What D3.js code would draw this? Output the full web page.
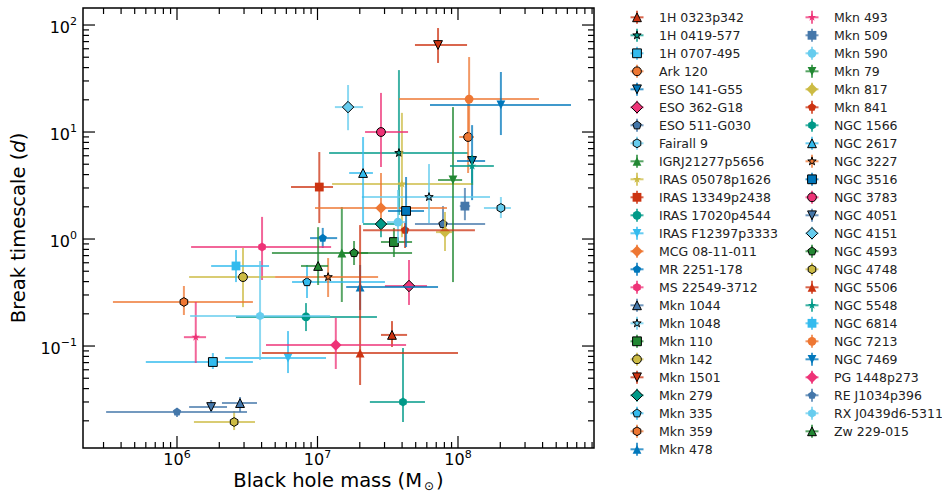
<!DOCTYPE html>
<meta charset="utf-8">
<style>
body { margin: 0; background: #fff; }
svg { font-family: 'DejaVu Sans', sans-serif; }
.tick-label { font-size: 16px; fill: #000; }
.axis-title { font-size: 19.5px; fill: #000; }
.legend text { font-size: 12.5px; fill: #222; }
.err { fill: none; stroke-width: 2px; stroke-opacity: 0.75; }
</style>
<body>
<svg width="942" height="495"></svg>
<script src="https://d3js.org/d3.v7.min.js"></script>
<script>
// sources, in legend order
var names = ["1H 0323p342", "1H 0419-577", "1H 0707-495", "Ark 120", "ESO 141-G55", "ESO 362-G18",
  "ESO 511-G030", "Fairall 9", "IGRJ21277p5656", "IRAS 05078p1626", "IRAS 13349p2438",
  "IRAS 17020p4544", "IRAS F12397p3333", "MCG 08-11-011", "MR 2251-178", "MS 22549-3712",
  "Mkn 1044", "Mkn 1048", "Mkn 110", "Mkn 142", "Mkn 1501", "Mkn 279", "Mkn 335", "Mkn 359",
  "Mkn 478", "Mkn 493", "Mkn 509", "Mkn 590", "Mkn 79", "Mkn 817", "Mkn 841", "NGC 1566",
  "NGC 2617", "NGC 3227", "NGC 3516", "NGC 3783", "NGC 4051", "NGC 4151", "NGC 4593",
  "NGC 4748", "NGC 5506", "NGC 5548", "NGC 6814", "NGC 7213", "NGC 7469", "PG 1448p273",
  "RE J1034p396", "RX J0439d6-5311", "Zw 229-015"];

// black hole mass (Msun) and its lower / upper bound
var mass   = [3.39e7, 3.80e7, 1.80e6, 1.18e8, 1.26e8, 4.48e7, 7.82e7, 2.02e8, 1.49e7, 3.99e7,
              1.03e7, 8.28e6, 6.17e6, 2.83e7, 1.09e7, 4.03e6, 2.81e6, 6.22e7, 3.50e7, 2.95e6,
              7.21e7, 2.83e7, 8.42e6, 1.12e6, 2.01e7, 1.36e6, 1.12e8, 3.74e7, 9.21e7, 8.08e7,
              4.20e7, 4.06e7, 2.11e7, 1.19e7, 4.27e7, 2.83e7, 1.75e6, 1.65e7, 1.82e7, 2.55e6,
              2.01e7, 1.26e8, 2.63e6, 1.20e8, 2.02e8, 1.35e7, 1.00e6, 3.90e6, 1.01e7];
var massLo = [2.83e7, 1.21e7, 6.0e5, 1.02e8, 9.84e7, 3.02e7, 4.94e7, 1.53e8, 4.74e6, 1.27e7,
              6.48e6, 2.63e6, 2.20e6, 9.6e6, 8.85e6, 1.26e6, 2.09e6, 2.07e7, 2.83e7, 1.22e6,
              4.94e7, 2.11e7, 6.59e6, 3.50e5, 1.60e7, 1.12e6, 1.03e8, 3.12e7, 7.21e7, 6.97e7,
              2.11e7, 2.36e7, 1.68e7, 4.99e6, 3.18e7, 2.18e7, 1.22e6, 1.33e7, 1.45e7, 1.32e6,
              4.03e6, 8.77e7, 1.75e6, 3.80e7, 6.32e7, 4.30e6, 3.13e5, 1.24e6, 7.63e6];
var massHi = [4.34e7, 1.18e8, 3.47e6, 1.30e8, 1.56e8, 6.02e7, 1.56e8, 2.38e8, 4.71e7, 1.28e8,
              1.29e7, 2.65e7, 1.15e7, 8.35e7, 1.38e7, 1.25e7, 3.71e6, 1.69e8, 4.71e7, 4.99e6,
              1.16e8, 3.68e7, 3.02e7, 3.47e6, 7.21e7, 1.61e6, 1.22e8, 4.20e7, 1.07e8, 9.07e7,
              1.32e8, 5.82e7, 2.48e7, 2.70e7, 5.73e7, 4.41e7, 2.27e6, 2.11e7, 2.29e7, 3.59e6,
              1.0e8, 1.80e8, 4.52e6, 3.77e8, 6.37e8, 4.27e7, 3.15e6, 1.23e7, 1.19e7];

// break timescale (days) and its lower / upper bound
var tau   = [0.127, 6.37, 0.0709, 8.98, 5.36, 0.364, 1.38, 1.95, 0.740, 3.27,
             3.06, 0.187, 0.0773, 1.95, 1.02, 0.842, 0.0293, 2.47, 0.937, 0.441,
             65.0, 1.38, 0.396, 0.258, 0.356, 0.121, 2.03, 1.44, 3.56, 1.16,
             1.21, 0.0300, 4.14, 0.441, 1.83, 10.0, 0.0269, 17.1, 0.740, 0.0195,
             0.0860, 4.81, 0.560, 20.3, 17.9, 0.102, 0.0242, 0.191, 0.560];
var tauLo = [0.098, 1.68, 0.0610, 4.14, 2.31, 0.242, 1.14, 1.57, 0.258, 1.04,
             1.41, 0.138, 0.0559, 1.21, 0.824, 0.414, 0.0242, 1.41, 0.679, 0.231,
             44.2, 1.04, 0.281, 0.195, 0.217, 0.0694, 1.50, 0.917, 0.396, 0.773,
             0.824, 0.0195, 1.41, 0.287, 0.842, 4.71, 0.0242, 10.4, 0.572, 0.0164,
             0.0432, 3.20, 0.396, 8.42, 9.37, 0.0610, 0.0217, 0.0740, 0.372];
var tauHi = [0.171, 37.9, 0.0860, 19.9, 11.6, 0.637, 2.03, 2.47, 1.99, 15.1,
             6.50, 0.252, 0.138, 4.14, 1.27, 1.61, 0.0334, 5.02, 1.27, 0.824,
             93.7, 1.57, 0.572, 0.364, 0.572, 0.258, 3.00, 2.87, 17.1, 1.79,
             1.41, 0.0958, 8.98, 0.664, 3.80, 23.2, 0.0313, 27.5, 0.958, 0.0247,
             1.35, 6.10, 0.789, 50.2, 36.4, 0.183, 0.0263, 0.623, 1.29];

// style cycles
var colors = ["#CC3311", "#009988", "#33BBEE", "#EE7733", "#0077BB",
              "#EE3377", "#4477AA", "#66CCEE", "#228833", "#CCBB44"];
var shapes = ["^", "*", "s", "o", "v", "D", "p", "h"];

var data = names.map(function(n, i) {
  return {
    name: n, m: mass[i], mlo: massLo[i], mhi: massHi[i],
    t: tau[i], tlo: tauLo[i], thi: tauHi[i],
    color: colors[i % colors.length],
    shape: shapes[i % shapes.length],
    edge: (i % 16) < 8
  };
});

var svg = d3.select("svg");
var plot = {left: 83, right: 594, top: 8, bottom: 448};

var x = d3.scaleLog().domain([Math.pow(10, 5.331), Math.pow(10, 8.968)]).range([plot.left, plot.right]);
var y = d3.scaleLog().domain([Math.pow(10, -1.953), Math.pow(10, 2.159)]).range([plot.bottom, plot.top]);

// matplotlib-like marker paths, r = half marker size
function polygon(n, r, rot) {
  var pts = [];
  for (var k = 0; k < n; k++) {
    var a = rot + k * 2 * Math.PI / n;
    pts.push([r * Math.sin(a), -r * Math.cos(a)]);
  }
  return "M" + pts.join("L") + "Z";
}
function markerPath(shape, r) {
  switch (shape) {
    case "^": return "M0," + (-r) + "L" + (-r) + "," + r + "L" + r + "," + r + "Z";
    case "v": return "M0," + r + "L" + (-r) + "," + (-r) + "L" + r + "," + (-r) + "Z";
    case "s": return "M" + (-r) + "," + (-r) + "h" + (2 * r) + "v" + (2 * r) + "h" + (-2 * r) + "Z";
    case "o": return "M" + r + ",0A" + r + "," + r + " 0 1,1 " + (-r) + ",0A" + r + "," + r + " 0 1,1 " + r + ",0Z";
    case "D": var d = r * Math.SQRT2 * 0.92;
      return "M0," + (-d) + "L" + d + ",0L0," + d + "L" + (-d) + ",0Z";
    case "p": return polygon(5, r, 0);
    case "h": return polygon(6, r, 0);
    case "*":
      var pts = [];
      for (var k = 0; k < 10; k++) {
        var rr = k % 2 ? r * 0.381966 : r;
        var a = k * Math.PI / 5;
        pts.push([rr * Math.sin(a), -rr * Math.cos(a)]);
      }
      return "M" + pts.join("L") + "Z";
  }
}
var R = 4.4;

// error bars and markers
var pts = svg.append("g").attr("class", "points");
data.forEach(function(d) {
  var g = pts.append("g");
  g.append("line").attr("class", "err").attr("stroke", d.color)
    .attr("x1", x(d.mlo)).attr("x2", x(d.mhi)).attr("y1", y(d.t)).attr("y2", y(d.t));
  g.append("line").attr("class", "err").attr("stroke", d.color)
    .attr("x1", x(d.m)).attr("x2", x(d.m)).attr("y1", y(d.tlo)).attr("y2", y(d.thi));
  g.append("path")
    .attr("transform", "translate(" + x(d.m) + "," + y(d.t) + ")")
    .attr("d", markerPath(d.shape, R))
    .attr("fill", d.color)
    .attr("stroke", d.edge ? "#000" : "none")
    .attr("stroke-width", 1);
});

// ticks on all four sides, pointing inwards
var axes = svg.append("g").attr("stroke", "#000").attr("stroke-width", 1.2);
function logTicks(scale) {
  var dom = scale.domain(), out = [];
  for (var k = -3; k <= 10; k++) {
    for (var m = 1; m <= 9; m++) {
      var v = m * Math.pow(10, k);
      if (v >= dom[0] && v <= dom[1]) out.push({v: v, major: m === 1, k: k});
    }
  }
  return out;
}
var xt = logTicks(x), yt = logTicks(y);
xt.forEach(function(t) {
  var len = t.major ? 12 : 6, px = x(t.v);
  axes.append("line").attr("x1", px).attr("x2", px).attr("y1", plot.bottom).attr("y2", plot.bottom - len);
  axes.append("line").attr("x1", px).attr("x2", px).attr("y1", plot.top).attr("y2", plot.top + len);
});
yt.forEach(function(t) {
  var len = t.major ? 12 : 6, py = y(t.v);
  axes.append("line").attr("y1", py).attr("y2", py).attr("x1", plot.left).attr("x2", plot.left + len);
  axes.append("line").attr("y1", py).attr("y2", py).attr("x1", plot.right).attr("x2", plot.right - len);
});
svg.append("rect")
  .attr("x", plot.left).attr("y", plot.top)
  .attr("width", plot.right - plot.left).attr("height", plot.bottom - plot.top)
  .attr("fill", "none").attr("stroke", "#000").attr("stroke-width", 1.5);

// tick labels 10^k
xt.filter(function(t) { return t.major; }).forEach(function(t) {
  var txt = svg.append("text").attr("class", "tick-label")
    .attr("x", x(t.v)).attr("y", 465).attr("text-anchor", "middle");
  txt.append("tspan").text("10");
  txt.append("tspan").attr("dy", -7.5).style("font-size", "11px").text(t.k);
});
yt.filter(function(t) { return t.major; }).forEach(function(t) {
  var txt = svg.append("text").attr("class", "tick-label")
    .attr("x", 77).attr("y", y(t.v) + 7.5).attr("text-anchor", "end");
  txt.append("tspan").text("10");
  txt.append("tspan").attr("dy", -7.5).style("font-size", "11px").text(t.k < 0 ? "\u2212" + (-t.k) : t.k);
});

// axis titles
var xl = svg.append("text").attr("class", "axis-title")
  .attr("x", (plot.left + plot.right) / 2).attr("y", 487).attr("text-anchor", "middle");
xl.append("tspan").text("Black hole mass (M");
xl.append("tspan").attr("dx", 2).attr("dy", 3).style("font-size", "12px").text("\u2299");
xl.append("tspan").attr("dx", 2).attr("dy", -3).text(")");

var yl = svg.append("text").attr("class", "axis-title")
  .attr("transform", "translate(25," + ((plot.top + plot.bottom) / 2) + ") rotate(-90)")
  .attr("text-anchor", "middle");
yl.append("tspan").text("Break timescale (");
yl.append("tspan").style("font-style", "italic").text("d");
yl.append("tspan").text(")");

// legend, two columns
var legend = svg.append("g").attr("class", "legend");
var rows = 25;
data.forEach(function(d, i) {
  var col = Math.floor(i / rows), row = i % rows;
  var mx = col === 0 ? 637 : 812, my = 17.3 + row * 18;
  var g = legend.append("g").attr("transform", "translate(" + mx + "," + my + ")");
  g.append("line").attr("class", "err").attr("stroke", d.color).attr("x1", -6.5).attr("x2", 6.5);
  g.append("line").attr("class", "err").attr("stroke", d.color).attr("y1", -6.5).attr("y2", 6.5);
  g.append("path").attr("d", markerPath(d.shape, R))
    .attr("fill", d.color).attr("stroke", d.edge ? "#000" : "none").attr("stroke-width", 1);
  g.append("text").attr("x", 22).attr("y", 4.5).text(d.name);
});
</script>
</body>
